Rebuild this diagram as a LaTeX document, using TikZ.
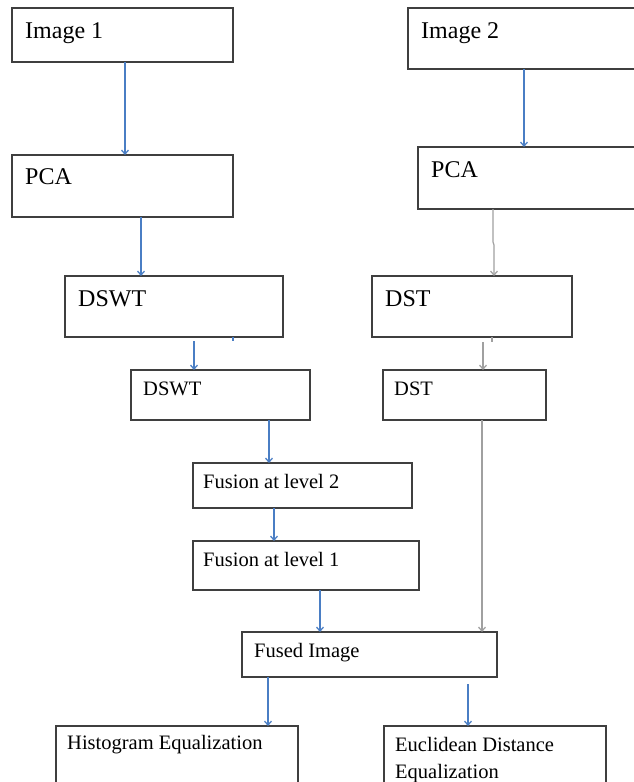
\documentclass[tikz,border=0pt]{standalone}
\usepackage{fontspec}
\setmainfont{Liberation Serif}
\usetikzlibrary{arrows.meta}
\definecolor{boxline}{HTML}{3F3F3F}
\definecolor{ablue}{HTML}{4A7EC4}
\definecolor{agray}{HTML}{A0A0A0}
\begin{document}
\begin{tikzpicture}[x=1pt,y=-1pt,
  box/.style={draw=boxline,line width=1.3pt,rectangle,inner sep=0pt,outer sep=0pt,anchor=north west},
  bigtxt/.style={font=\fontsize{24}{28}\selectfont,anchor=base west,inner sep=0pt},
  smalltxt/.style={font=\fontsize{20.5}{27}\selectfont,anchor=base west,inner sep=0pt},
  barrow/.style={draw=ablue,line width=1.25pt,-{Straight Barb[length=4pt,width=7pt]}},
  garrow/.style={draw=agray,line width=1.25pt,-{Straight Barb[length=4pt,width=7pt]}}]
\useasboundingbox (0,0) rectangle (634,782);
\clip (0,0) rectangle (634,782);
% boxes
\node[box,minimum width=221pt,minimum height=54pt] (img1) at (12,8) {};
\node[box,minimum width=221pt,minimum height=62pt] (pca1) at (12,155) {};
\node[box,minimum width=260pt,minimum height=61pt] (img2) at (408,8) {};
\node[box,minimum width=250pt,minimum height=62pt] (pca2) at (418,147) {};
\node[box,minimum width=218pt,minimum height=61pt] (dswt1) at (65,276) {};
\node[box,minimum width=200pt,minimum height=61pt] (dst1) at (372,276) {};
\node[box,minimum width=179pt,minimum height=50pt] (dswt2) at (131,370) {};
\node[box,minimum width=163pt,minimum height=50pt] (dst2) at (383,370) {};
\node[box,minimum width=219pt,minimum height=45pt] (fus2) at (193,463) {};
\node[box,minimum width=226pt,minimum height=49pt] (fus1) at (193,541) {};
\node[box,minimum width=255pt,minimum height=45pt] (fused) at (242,632) {};
\node[box,minimum width=242pt,minimum height=80pt] (hist) at (56,726) {};
\node[box,minimum width=222pt,minimum height=80pt] (eucl) at (384,726) {};
% texts
\node[bigtxt] (timg1) at (25,38) {Image 1};
\node[bigtxt] (tpca1) at (25,184) {PCA};
\node[bigtxt] (timg2) at (421,38) {Image 2};
\node[bigtxt] (tpca2) at (431,177) {PCA};
\node[bigtxt] (tdswt1) at (78,306) {DSWT};
\node[bigtxt] (tdst1) at (385,306) {DST};
\node[smalltxt] (tdswt2) at (143,395) {DSWT};
\node[smalltxt] (tdst2) at (394,395) {DST};
\node[smalltxt] (tfus2) at (203,488) {Fusion at level 2};
\node[smalltxt] (tfus1) at (203,566) {Fusion at level 1};
\node[smalltxt] (tfused) at (254,657) {Fused Image};
\node[smalltxt] (thist) at (67,749) {Histogram Equalization};
\node[smalltxt] (teucla) at (395,751) {Euclidean Distance};
\node[smalltxt] (teuclb) at (395,778) {Equalization};
% column positions
\coordinate (x125) at (125,0);
\coordinate (x141) at (141,0);
\coordinate (x194) at (194,0);
\coordinate (x233) at (233,0);
\coordinate (x269) at (269,0);
\coordinate (x274) at (274,0);
\coordinate (x320) at (320,0);
\coordinate (x268) at (268,0);
\coordinate (x468) at (468,0);
\coordinate (x524) at (524,0);
\coordinate (x493) at (493,0);
\coordinate (x494) at (494,0);
\coordinate (x492) at (492,0);
\coordinate (x483) at (483,0);
\coordinate (x482) at (482,0);
% blue connectors
\draw[barrow] (img1.south -| x125) -- (pca1.north -| x125);
\draw[barrow] (pca1.south -| x141) -- (dswt1.north -| x141);
\draw[ablue,line width=1.25pt] (dswt1.south -| x233) -- ++(0,4);
\draw[barrow] ([yshift=-4pt]dswt1.south -| x194) -- (dswt2.north -| x194);
\draw[barrow] (dswt2.south -| x269) -- (fus2.north -| x269);
\draw[barrow] (fus2.south -| x274) -- (fus1.north -| x274);
\draw[barrow] (fus1.south -| x320) -- (fused.north -| x320);
\draw[barrow] (fused.south -| x268) -- (hist.north -| x268);
\draw[barrow] ([yshift=-7pt]fused.south -| x468) -- (eucl.north -| x468);
\draw[barrow] (img2.south -| x524) -- (pca2.north -| x524);
% gray connectors
\draw[garrow] (pca2.south -| x493) -- ++(0,33) -- ++(1,3) -- (dst1.north -| x494);
\draw[agray,line width=1.25pt] (dst1.south -| x492) -- ++(0,5);
\draw[garrow] ([yshift=-5pt]dst1.south -| x483) -- (dst2.north -| x483);
\draw[garrow] (dst2.south -| x482) -- (fused.north -| x482);
\end{tikzpicture}
\end{document}
